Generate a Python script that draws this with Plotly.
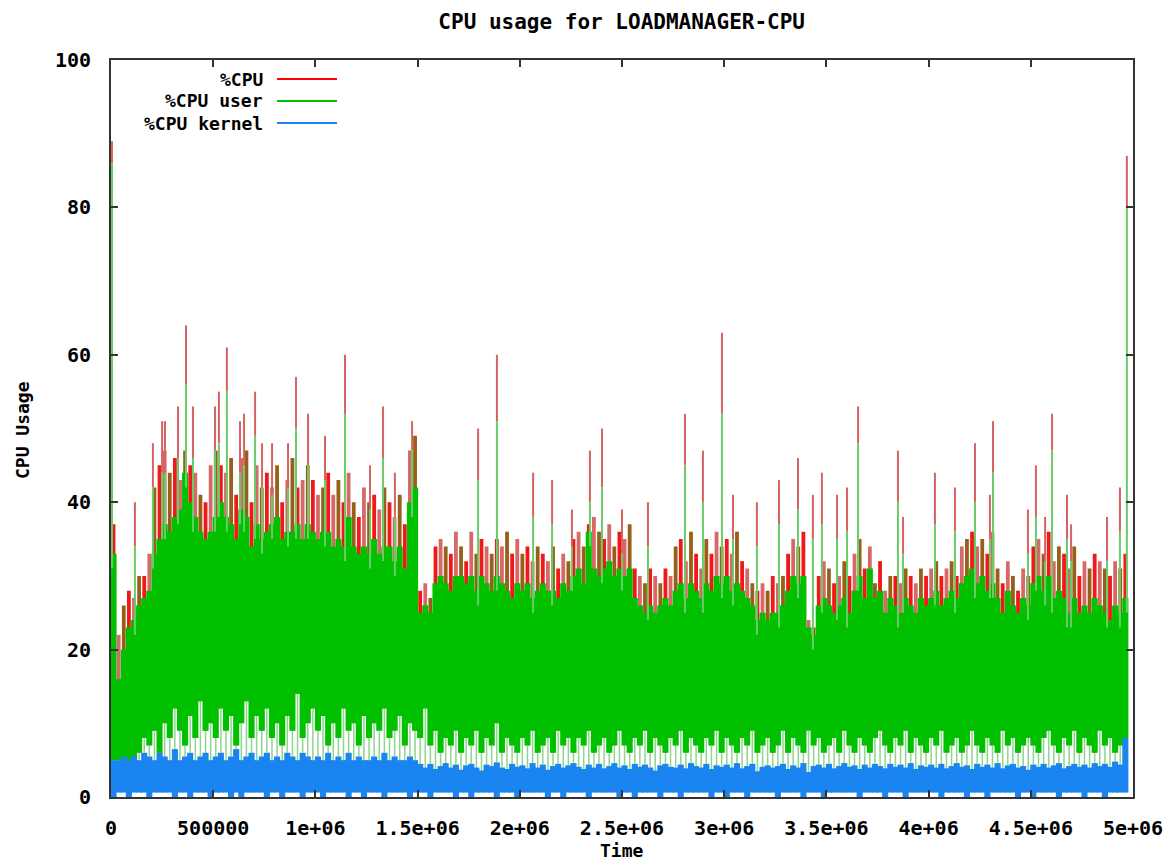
import plotly.graph_objects as go

# ---------------- data ----------------
STEP = 25000  # time width of one sample bin
N_BINS = 199

# %CPU (total) dense upper envelope per bin
CPU_TOP = [
    37, 22, 26, 28, 27, 30, 30, 33, 42, 45,
    47, 44, 46, 43, 47, 45, 44, 41, 40, 45,
    47, 45, 44, 46, 41, 46, 47, 40, 45, 42,
    44, 42, 45, 40, 43, 46, 42, 43, 45, 43,
    41, 42, 44, 41, 43, 40, 44, 40, 38, 42,
    40, 41, 39, 42, 40, 38, 41, 37, 47, 49,
    28, 29, 27, 34, 35, 34, 33, 36, 34, 32,
    36, 33, 35, 34, 33, 35, 34, 36, 33, 35,
    33, 34, 32, 34, 33, 32, 34, 31, 33, 32,
    35, 36, 34, 37, 38, 36, 35, 37, 34, 36,
    35, 37, 31, 30, 29, 31, 30, 29, 31, 30,
    34, 35, 32, 36, 33, 31, 35, 33, 36, 34,
    35, 33, 36, 32, 31, 29, 28, 29, 28, 30,
    29, 30, 33, 35, 34, 36, 24, 23, 30, 32,
    31, 29, 30, 32, 30, 33, 35, 31, 34, 29,
    32, 28, 30, 30, 29, 31, 30, 29, 31, 30,
    31, 32, 30, 31, 32, 30, 34, 35, 36, 34,
    35, 33, 36, 31, 29, 32, 30, 28, 31, 30,
    34, 35, 33, 36, 32, 34, 33, 31, 34, 30,
    32, 31, 33, 32, 31, 30, 32, 31, 33,
]

# %CPU user dense upper envelope per bin
USER_TOP = [
    33, 16, 20, 23, 24, 26, 27, 28, 33, 35,
    37, 36, 38, 39, 44, 40, 38, 36, 35, 36,
    38, 40, 38, 37, 35, 39, 38, 34, 37, 35,
    36, 37, 38, 35, 36, 36, 37, 35, 37, 36,
    35, 36, 36, 34, 35, 34, 38, 34, 33, 34,
    33, 35, 33, 34, 34, 32, 34, 31, 40, 42,
    25, 26, 25, 29, 30, 29, 28, 30, 30, 29,
    30, 28, 30, 29, 28, 30, 29, 28, 27, 29,
    28, 29, 27, 28, 29, 28, 28, 27, 29, 28,
    30, 31, 29, 36, 31, 30, 31, 32, 30, 31,
    30, 31, 27, 26, 25, 26, 25, 26, 27, 26,
    28, 29, 27, 29, 28, 27, 29, 28, 30, 29,
    30, 28, 29, 28, 27, 26, 24, 25, 24, 25,
    25, 26, 28, 30, 29, 30, 23, 22, 26, 27,
    26, 25, 26, 27, 25, 28, 30, 27, 31, 27,
    28, 25, 27, 26, 25, 27, 26, 25, 27, 26,
    27, 28, 26, 27, 28, 27, 29, 30, 31, 29,
    30, 28, 29, 27, 25, 28, 26, 25, 27, 26,
    29, 30, 28, 30, 27, 28, 27, 25, 27, 25,
    26, 25, 27, 26, 25, 24, 26, 25, 27,
]

# %CPU user lower envelope per bin
USER_LOW = [
    5, 5, 5, 5, 5, 6, 8, 7, 9, 6,
    10, 8, 12, 9, 7, 11, 8, 13, 9, 10,
    8, 12, 9, 11, 7, 10, 13, 8, 11, 9,
    12, 8, 10, 7, 11, 9, 14, 8, 10, 12,
    9, 11, 7, 10, 8, 12, 9, 10, 7, 11,
    8, 10, 9, 12, 8, 9, 11, 7, 10, 9,
    8, 12, 7, 9, 6, 8, 7, 9, 6, 8,
    7, 9, 6, 8, 7, 10, 6, 8, 7, 6,
    8, 7, 9, 6, 7, 8, 6, 9, 7, 8,
    6, 8, 7, 9, 6, 7, 8, 6, 7, 9,
    7, 6, 8, 7, 9, 6, 8, 7, 6, 8,
    7, 9, 6, 8, 7, 6, 8, 7, 9, 6,
    8, 7, 6, 8, 7, 9, 6, 7, 8, 6,
    7, 9, 6, 8, 7, 6, 9, 7, 8, 6,
    7, 8, 6, 9, 7, 6, 8, 7, 6, 8,
    9, 7, 6, 8, 7, 9, 6, 8, 7, 6,
    8, 7, 9, 6, 7, 8, 6, 7, 9, 7,
    6, 8, 7, 6, 9, 7, 8, 6, 7, 8,
    7, 6, 8, 9, 7, 6, 8, 7, 9, 6,
    8, 7, 6, 9, 7, 8, 6, 7, 8,
]

# %CPU kernel upper envelope per bin
KERNEL_TOP = [
    5, 5, 5.5, 5, 5.5, 5, 6, 5.5, 5, 6,
    5.5, 5, 6.5, 5, 5.5, 6, 5, 5.5, 6, 5,
    5.5, 6, 5, 5.5, 6.5, 5, 5.5, 6, 5, 5.5,
    6, 5, 5.5, 5, 6, 5.5, 5, 6, 5.5, 5,
    5.5, 5, 6, 5, 5.5, 5, 6, 5, 5.5, 5,
    5, 5.5, 5, 6, 5, 5.5, 5, 5, 5.5, 5,
    4.5, 4, 4.5, 3.8, 4.2, 4.6, 4, 4.4, 3.7, 4.3,
    4.5, 4, 3.6, 4.4, 4.2, 4.7, 4, 3.8, 4.5, 4.1,
    4.3, 3.9, 4.6, 4, 4.4, 3.7, 4.2, 4.5, 4, 4.3,
    4.6, 4.1, 3.8, 4.4, 4, 4.5, 3.9, 4.2, 4.6, 4,
    4.3, 3.8, 4.5, 4.1, 4.4, 4, 3.6, 4.3, 4.5, 4.1,
    4, 4.4, 3.9, 4.6, 4.2, 4, 4.5, 3.8, 4.3, 4.1,
    4.4, 4, 4.6, 3.9, 4.2, 4.5, 3.5, 4.1, 4.3, 4,
    4.2, 4.5, 3.8, 4.3, 4, 4.6, 3.4, 4.2, 4.4, 4,
    4.5, 3.9, 4.2, 4.6, 4.1, 4.3, 3.8, 4.4, 4, 4.5,
    4.2, 3.9, 4.5, 4.1, 4.4, 4, 4.6, 3.8, 4.3, 4.1,
    4.4, 4, 4.5, 3.9, 4.2, 4.6, 4.1, 4.3, 3.8, 4.5,
    4.1, 4.4, 4, 4.6, 3.9, 4.3, 4.5, 4, 4.2, 3.7,
    4.4, 4.1, 4.5, 4, 4.3, 4.6, 3.9, 4.2, 4.5, 4.1,
    4.4, 4, 4.6, 4.2, 4.5, 4.1, 4.8, 4.4, 8,
]

# %CPU kernel lower envelope per bin
KERNEL_LOW = [
    0, 0.6, 0.6, 0, 0.6, 0.6, 0.6, 0, 0.6, 0.6,
    0.6, 0.6, 0, 0.6, 0.6, 0, 0.6, 0.6, 0.6, 0,
    0.6, 0.6, 0.6, 0, 0.6, 0, 0.6, 0.6, 0.6, 0.6,
    0, 0.6, 0.6, 0, 0.6, 0.6, 0.6, 0, 0.6, 0.6,
    0.6, 0, 0.6, 0.6, 0.6, 0.6, 0, 0.6, 0.6, 0,
    0.6, 0.6, 0.6, 0, 0.6, 0.6, 0.6, 0.6, 0, 0.6,
    0.6, 0.6, 0, 0.6, 0.6, 0.6, 0.6, 0, 0.6, 0.6,
    0, 0.6, 0.6, 0.6, 0.6, 0, 0.6, 0.6, 0.6, 0,
    0.6, 0.6, 0.6, 0.6, 0.6, 0, 0.6, 0.6, 0, 0.6,
    0.6, 0.6, 0.6, 0, 0.6, 0.6, 0.6, 0.6, 0.6, 0,
    0.6, 0.6, 0, 0.6, 0.6, 0.6, 0.6, 0, 0.6, 0.6,
    0.6, 0, 0.6, 0.6, 0.6, 0.6, 0.6, 0, 0.6, 0.6,
    0, 0.6, 0.6, 0.6, 0, 0.6, 0.6, 0.6, 0.6, 0.6,
    0, 0.6, 0.6, 0.6, 0.6, 0, 0.6, 0.6, 0.6, 0,
    0.6, 0.6, 0.6, 0.6, 0.6, 0.6, 0, 0.6, 0.6, 0.6,
    0.6, 0, 0.6, 0.6, 0.6, 0, 0.6, 0.6, 0.6, 0.6,
    0.6, 0.6, 0, 0.6, 0.6, 0.6, 0.6, 0, 0.6, 0.6,
    0.6, 0, 0.6, 0.6, 0.6, 0.6, 0.6, 0, 0.6, 0.6,
    0, 0.6, 0.6, 0.6, 0.6, 0, 0.6, 0.6, 0.6, 0.6,
    0, 0.6, 0.6, 0.6, 0, 0.6, 0.6, 0.6, 0.6,
]

# isolated spikes: time, %CPU, %CPU user
SPIKE_T = [5000, 117000, 205000, 250000, 264000, 328000, 367000, 401000, 509000,
           528000, 567000, 631000, 651000, 705000, 739000, 788000, 866000, 905000,
           964000, 1047000, 1145000, 1267000, 1331000, 1389000, 1473000, 1796000,
           1888000, 2065000, 2158000, 2255000, 2343000, 2402000, 2500000, 2627000,
           2808000, 2896000, 2989000, 3043000, 3160000, 3268000, 3361000, 3434000,
           3478000, 3552000, 3601000, 3655000, 3850000, 3875000, 4031000, 4129000,
           4227000, 4300000, 4315000, 4486000, 4525000, 4570000, 4604000, 4677000,
           4697000, 4873000, 4936000, 4970000]
SPIKE_CPU = [89, 40, 48, 51, 51, 53, 64, 53, 53, 55, 61, 51, 52, 55, 48, 48, 48, 57,
             52, 49, 60, 45, 53, 44, 51, 50, 60, 44, 43, 39, 47, 50, 39, 40, 52, 47,
             63, 41, 40, 43, 46, 41, 44, 41, 42, 53, 47, 38, 44, 42, 48, 41, 51, 39,
             45, 38, 52, 41, 37, 38, 42, 87]
SPIKE_USER = [86, 34, 42, 44, 44, 46, 56, 46, 47, 48, 55, 44, 45, 49, 42, 41, 42, 50,
              45, 43, 52, 39, 46, 38, 47, 43, 51, 38, 37, 34, 40, 42, 33, 34, 45, 40,
              52, 35, 34, 37, 39, 35, 37, 35, 36, 48, 40, 33, 37, 36, 40, 35, 44, 33,
              38, 32, 47, 35, 32, 32, 36, 80]

X_TICKS = [0, 500000, 1000000, 1500000, 2000000, 2500000, 3000000, 3500000,
           4000000, 4500000, 5000000]
X_TICK_TEXT = ["0", "500000", "1e+06", "1.5e+06", "2e+06", "2.5e+06", "3e+06",
               "3.5e+06", "4e+06", "4.5e+06", "5e+06"]
Y_TICKS = [0, 20, 40, 60, 80, 100]

for arr in (CPU_TOP, USER_TOP, USER_LOW, KERNEL_TOP, KERNEL_LOW):
    assert len(arr) == N_BINS, len(arr)
assert len(SPIKE_T) == len(SPIKE_CPU) == len(SPIKE_USER)

# ---------------- styles ----------------
RED = "#ff0000"
GREEN = "#00c000"
BLUE = "#1a84f0"
RED_COMB = ["#f01818", "rgb(214,104,104)", "rgb(150,96,24)"]
RED_SPIKE = "rgb(214,98,98)"
GREEN_SPIKE = "rgb(104,204,104)"
GREEN_GAP = "rgb(140,215,140)"
FONT = "DejaVu Sans Mono"

L, R, T, B = 111, 40, 60, 67
W, H = 1173, 864
pw, ph = W - L - R, H - T - B
BIN_PX = pw * STEP / 5000000  # on-screen width of one bin

centers = [(i + 0.5) * STEP for i in range(N_BINS)]


def comb(times, bottoms, tops, color, width):
    xs, ys = [], []
    for t, b, h in zip(times, bottoms, tops):
        xs += [t, t, None]
        ys += [b, h, None]
    return go.Scatter(x=xs, y=ys, mode="lines", line=dict(color=color, width=width),
                      showlegend=False, hoverinfo="skip")


fig = go.Figure()
# %CPU drawn as a comb of vertical strokes (gnuplot dense-line look)
for k, col in enumerate(RED_COMB):
    idx = [i for i in range(N_BINS) if i % 3 == k]
    fig.add_trace(comb([centers[i] for i in idx], [USER_LOW[i] for i in idx],
                       [CPU_TOP[i] for i in idx], col, 3.8))
# %CPU user solid body (full-bin-width strokes)
fig.add_trace(comb(centers, USER_LOW, USER_TOP, GREEN, BIN_PX + 1.0))
# %CPU user dips reaching down to the kernel band
fig.add_trace(comb(centers, KERNEL_TOP, USER_LOW, GREEN_GAP, 1.5))
# spikes
spike_base = [USER_TOP[min(int(t // STEP), N_BINS - 1)] - 2 for t in SPIKE_T]
fig.add_trace(comb(SPIKE_T, SPIKE_USER, SPIKE_CPU, RED_SPIKE, 2))
fig.add_trace(comb(SPIKE_T, spike_base, SPIKE_USER, GREEN_SPIKE, 2))
# %CPU kernel
fig.add_trace(comb(centers, KERNEL_LOW, KERNEL_TOP, BLUE, BIN_PX + 1.0))


def px_x(px):
    return (px - L) / pw


def px_y(py):
    return (H - B - py) / ph


# gnuplot-style key (text right-aligned, sample line on the right)
legend_items = [("%CPU", RED, 79), ("%CPU user", GREEN, 101), ("%CPU kernel", BLUE, 123)]
for label, color, py in legend_items:
    fig.add_annotation(x=px_x(264), y=px_y(py), xref="paper", yref="paper",
                       text=label, showarrow=False, xanchor="right", yanchor="middle",
                       borderpad=0,
                       font=dict(family=FONT, size=18, color="black", weight="bold"))
    fig.add_shape(type="line", xref="paper", yref="paper",
                  x0=px_x(277), x1=px_x(337), y0=px_y(py), y1=px_y(py),
                  line=dict(color=color, width=2))

# axis titles
fig.add_annotation(x=px_x(622), y=px_y(850), xref="paper", yref="paper", text="Time",
                   showarrow=False, xanchor="center", yanchor="middle", borderpad=0,
                   font=dict(family=FONT, size=18, color="black", weight="bold"))
fig.add_annotation(x=px_x(23), y=px_y(430), xref="paper", yref="paper", text="CPU Usage",
                   showarrow=False, xanchor="center", yanchor="middle", textangle=-90,
                   borderpad=0,
                   font=dict(family=FONT, size=18, color="black", weight="bold"))

axis_common = dict(showline=True, linecolor="#333333", linewidth=2, mirror="ticks",
                   ticks="inside", ticklen=7, tickcolor="#333333", tickwidth=2,
                   showgrid=False, zeroline=False, automargin=False,
                   tickfont=dict(family=FONT, size=20, color="black", weight="bold"))

fig.update_layout(
    width=W, height=H,
    margin=dict(l=L, r=R, t=T, b=B),
    plot_bgcolor="white", paper_bgcolor="white",
    title=dict(text="CPU usage for LOADMANAGER-CPU", x=0.53, xref="container",
               y=1 - 22 / H, yref="container", xanchor="center", yanchor="middle",
               font=dict(family=FONT, size=21, color="black", weight="bold")),
    xaxis=dict(range=[0, 5000000], tickvals=X_TICKS, ticktext=X_TICK_TEXT,
               ticklabelstandoff=12, **axis_common),
    yaxis=dict(range=[0, 100], tickvals=Y_TICKS, ticklabelstandoff=14, **axis_common),
    showlegend=False,
)

fig.write_html("out.html")
